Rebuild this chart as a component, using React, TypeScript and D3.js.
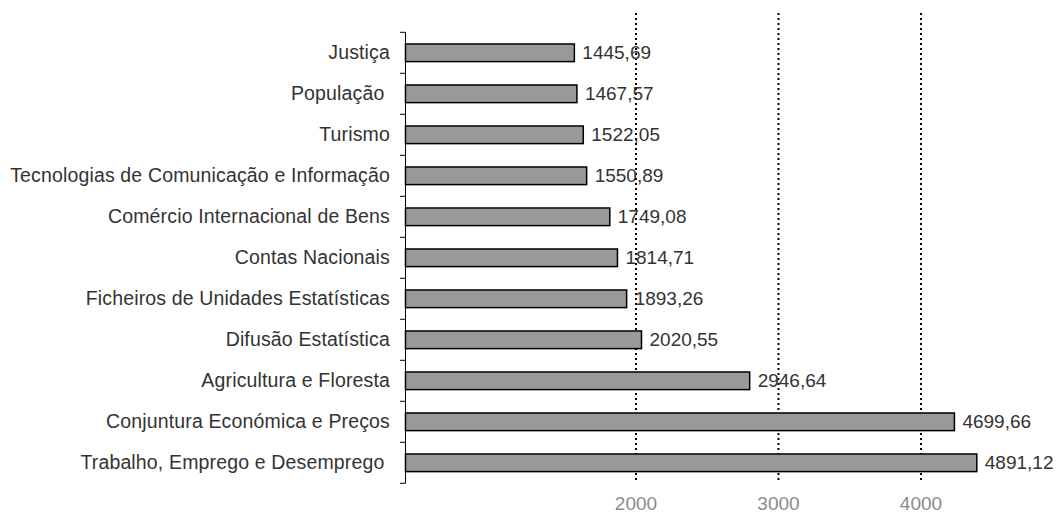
import React from "react";
import * as d3 from "d3";

const categories = [
  "Justiça",
  "População ",
  "Turismo",
  "Tecnologias de Comunicação e Informação",
  "Comércio Internacional de Bens",
  "Contas Nacionais",
  "Ficheiros de Unidades Estatísticas",
  "Difusão Estatística",
  "Agricultura e Floresta",
  "Conjuntura Económica e Preços",
  "Trabalho, Emprego e Desemprego ",
];
const values = [1445.69, 1467.57, 1522.05, 1550.89, 1749.08, 1814.71, 1893.26, 2020.55, 2946.64, 4699.66, 4891.12];
const valueLabels = ["1445,69", "1467,57", "1522,05", "1550,89", "1749,08", "1814,71", "1893,26", "2020,55", "2946,64", "4699,66", "4891,12"];
const gridTicks = [2000, 3000, 4000];

const W = 1058;
const H = 513;
const FONT = "'Liberation Sans', Arial, sans-serif";

export default function App() {
  const x = d3.scaleLinear().domain([0, 1000]).range([405.5, 522.3]);
  const gx = d3.scaleLinear().domain([2000, 4000]).range([636, 921]);
  const y = d3.scaleBand<string>().domain(categories).range([32.3, 483.3]).paddingInner(0.57).paddingOuter(0.285);
  const step = y.step();
  const boundaries = d3.range(categories.length + 1).map((i) => 32.3 + i * step);

  return (
    <svg width={W} height={H} style={{ position: "absolute", left: 0, top: 0, display: "block", background: "#fff" }} fontFamily={FONT}>
      {gridTicks.map((t) => (
        <g key={t}>
          <line x1={gx(t)} x2={gx(t)} y1={13} y2={482} stroke="#000" strokeWidth={2} strokeDasharray="2,3" />
          <text x={gx(t)} y={510} textAnchor="middle" fontSize={19} fill="#8a8a8a">
            {t}
          </text>
        </g>
      ))}
      {categories.map((c, i) => (
        <g key={c}>
          <rect
            x={x(0)}
            y={y(c)!}
            width={x(values[i]) - x(0)}
            height={y.bandwidth()}
            fill="#999999"
            stroke="#000"
            strokeWidth={1.5}
          />
          <text x={x(values[i]) + 8} y={y(c)! + y.bandwidth() / 2} dy="0.34em" fontSize={19} fill="#333">
            {valueLabels[i]}
          </text>
          <text
            x={390}
            y={y(c)! + y.bandwidth() / 2}
            dy="0.34em"
            textAnchor="end"
            fontSize={19.5}
            letterSpacing={0.15}
            fill="#333"
            style={{ whiteSpace: "pre" }}
          >
            {c}
          </text>
        </g>
      ))}
      <line x1={405.5} x2={405.5} y1={boundaries[0]} y2={boundaries[boundaries.length - 1]} stroke="#000" strokeWidth={1} />
      {boundaries.map((b, i) => (
        <line key={i} x1={400} x2={405.5} y1={b} y2={b} stroke="#000" strokeWidth={1} />
      ))}
    </svg>
  );
}
